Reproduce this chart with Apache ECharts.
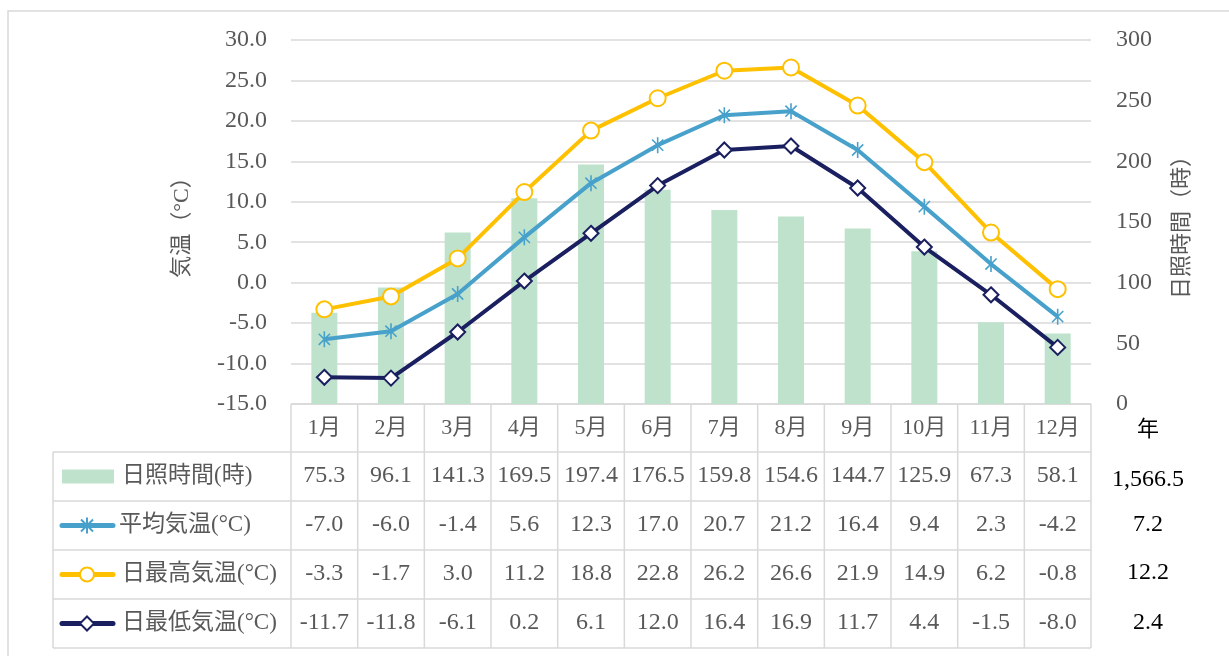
<!DOCTYPE html>
<html>
<head>
<meta charset="utf-8">
<script src="https://cdn.jsdelivr.net/npm/echarts@6/dist/echarts.min.js"></script>
<style>
  html, body { margin: 0; padding: 0; background: #fff; }
  #main { width: 1229px; height: 656px; }
</style>
</head>
<body>
<div id="main"></div>
<script>
// data
var months = ['1月', '2月', '3月', '4月', '5月', '6月', '7月', '8月', '9月', '10月', '11月', '12月'];
var sunshine = [75.3, 96.1, 141.3, 169.5, 197.4, 176.5, 159.8, 154.6, 144.7, 125.9, 67.3, 58.1];
var avgTemp = [-7.0, -6.0, -1.4, 5.6, 12.3, 17.0, 20.7, 21.2, 16.4, 9.4, 2.3, -4.2];
var maxTemp = [-3.3, -1.7, 3.0, 11.2, 18.8, 22.8, 26.2, 26.6, 21.9, 14.9, 6.2, -0.8];
var minTemp = [-11.7, -11.8, -6.1, 0.2, 6.1, 12.0, 16.4, 16.9, 11.7, 4.4, -1.5, -8.0];
var yearLabel = '年';
var yearValues = ['1,566.5', '7.2', '12.2', '2.4'];
var names = ['日照時間(時)', '平均気温(°C)', '日最高気温(°C)', '日最低気温(°C)'];

var cBar = '#bfe2cc', cAvg = '#47a1cb', cMax = '#ffc000', cMin = '#1a1f5f';
var gray = '#595959', lineGray = '#d9d9d9';
var numFont = "'Liberation Serif', 'Noto Sans CJK JP', serif";

// asterisk marker (vertical + X)
var starPath = 'path://M-1,-10L1,-10L1,10L-1,10Z' +
    'M-7.7,-6.3L-6.3,-7.7L7.7,6.3L6.3,7.7Z' +
    'M6.3,-7.7L7.7,-6.3L-6.3,7.7L-7.7,6.3Z';

var chart = echarts.init(document.getElementById('main'));
var option = {
    animation: false,
    grid: { left: 291, right: 138, top: 40, bottom: 252 },
    xAxis: {
        type: 'category',
        data: months,
        axisLine: { show: false },
        axisTick: { show: false },
        axisLabel: { show: false }
    },
    yAxis: [{
        type: 'value', min: -15, max: 30, interval: 5,
        name: '気温（°C）', nameLocation: 'middle', nameRotate: 90, nameGap: 98,
        nameTextStyle: { color: gray, fontSize: 22, fontFamily: numFont },
        axisLine: { show: false }, axisTick: { show: false },
        axisLabel: {
            color: gray, fontSize: 24, fontFamily: numFont, margin: 24,
            formatter: function (v) { return v.toFixed(1); }
        },
        splitLine: { lineStyle: { color: lineGray, width: 1.5 } }
    }, {
        type: 'value', min: 0, max: 300, interval: 50,
        name: '日照時間（時）', nameLocation: 'middle', nameRotate: 90, nameGap: 80,
        nameTextStyle: { color: gray, fontSize: 22, fontFamily: numFont },
        axisLine: { show: false }, axisTick: { show: false },
        axisLabel: { color: gray, fontSize: 24, fontFamily: numFont, margin: 25 },
        splitLine: { show: false }
    }],
    series: [{
        name: names[0], type: 'bar', yAxisIndex: 1, data: sunshine,
        barWidth: '39%', itemStyle: { color: cBar }
    }, {
        name: names[1], type: 'line', data: avgTemp,
        symbol: starPath, symbolSize: 16, symbolKeepAspect: true,
        lineStyle: { color: cAvg, width: 4 },
        itemStyle: { color: cAvg }
    }, {
        name: names[2], type: 'line', data: maxTemp,
        symbol: 'circle', symbolSize: 16,
        lineStyle: { color: cMax, width: 4 },
        itemStyle: { color: '#fff', borderColor: cMax, borderWidth: 2 }
    }, {
        name: names[3], type: 'line', data: minTemp,
        symbol: 'diamond', symbolSize: 15,
        lineStyle: { color: cMin, width: 4 },
        itemStyle: { color: '#fff', borderColor: cMin, borderWidth: 2 }
    }]
};
chart.setOption(option);

// table under the plot
var rowsY = [404, 452, 501, 550, 599, 648];
var tableLeft = 53;
var x0 = chart.convertToPixel({ xAxisIndex: 0 }, 0);
var x1 = chart.convertToPixel({ xAxisIndex: 0 }, 1);
var band = x1 - x0;
var colLeft = x0 - band / 2;
var colRight = colLeft + band * months.length;
var yearX = 1148;
var yearY = [480, 525, 573, 623];
var rowsData = [sunshine, avgTemp, maxTemp, minTemp];

var g = [];
g.push({ type: 'rect', shape: { x: 8, y: 11, width: 1400, height: 800 },
    style: { fill: null, stroke: lineGray, lineWidth: 1.5 }, z: -1 });

function hline(y, xa, xb) {
    g.push({ type: 'line', shape: { x1: xa, y1: y, x2: xb, y2: y }, style: { stroke: lineGray, lineWidth: 1.5 } });
}
function vline(x, ya, yb) {
    g.push({ type: 'line', shape: { x1: x, y1: ya, x2: x, y2: yb }, style: { stroke: lineGray, lineWidth: 1.5 } });
}
function txt(s, x, y, size, color, align) {
    g.push({ type: 'text', x: x, y: y,
        style: { text: s, fill: color, fontSize: size, fontFamily: numFont,
            align: align || 'center', verticalAlign: 'middle' } });
}

hline(rowsY[0], colLeft, colRight);
for (var r = 1; r < rowsY.length; r++) hline(rowsY[r], tableLeft, colRight);
vline(tableLeft, rowsY[1], rowsY[5]);
for (var c = 0; c <= months.length; c++) vline(colLeft + band * c, rowsY[0], rowsY[5]);

// header + values
for (var i = 0; i < months.length; i++) {
    var cx = chart.convertToPixel({ xAxisIndex: 0 }, i);
    txt(months[i], cx, (rowsY[0] + rowsY[1]) / 2, 22, gray);
    for (var k = 0; k < rowsData.length; k++) {
        txt(rowsData[k][i].toFixed(1), cx, (rowsY[k + 1] + rowsY[k + 2]) / 2 - 1, 24, gray);
    }
}
txt(yearLabel, yearX, 430, 22, '#000');
for (var k = 0; k < yearValues.length; k++) {
    txt(yearValues[k], yearX, yearY[k], 24, '#000');
}

// legend keys in the first column
var cyRow = function (k) { return (rowsY[k + 1] + rowsY[k + 2]) / 2; };
g.push({ type: 'rect', shape: { x: 62, y: cyRow(0) - 7, width: 52, height: 14 }, style: { fill: cBar } });
[cAvg, cMax, cMin].forEach(function (col, j) {
    var y = cyRow(j + 1);
    g.push({ type: 'line', shape: { x1: 62, y1: y, x2: 113, y2: y },
        style: { stroke: col, lineWidth: 5, lineCap: 'round' } });
});
var ya = cyRow(1);
g.push({ type: 'line', shape: { x1: 87, y1: ya - 8, x2: 87, y2: ya + 8 }, style: { stroke: cAvg, lineWidth: 2 } });
g.push({ type: 'line', shape: { x1: 81, y1: ya - 6, x2: 93, y2: ya + 6 }, style: { stroke: cAvg, lineWidth: 2 } });
g.push({ type: 'line', shape: { x1: 93, y1: ya - 6, x2: 81, y2: ya + 6 }, style: { stroke: cAvg, lineWidth: 2 } });
g.push({ type: 'circle', shape: { cx: 87, cy: cyRow(2), r: 7 }, style: { fill: '#fff', stroke: cMax, lineWidth: 2 } });
var yd = cyRow(3);
g.push({ type: 'polygon', shape: { points: [[87, yd - 7], [94, yd], [87, yd + 7], [80, yd]] },
    style: { fill: '#fff', stroke: cMin, lineWidth: 2 } });
var labelX = [122, 119, 122, 122];
for (var k = 0; k < names.length; k++) {
    txt(names[k], labelX[k], cyRow(k) - 1, 23, gray, 'left');
}

chart.setOption({ graphic: g });
</script>
</body>
</html>
